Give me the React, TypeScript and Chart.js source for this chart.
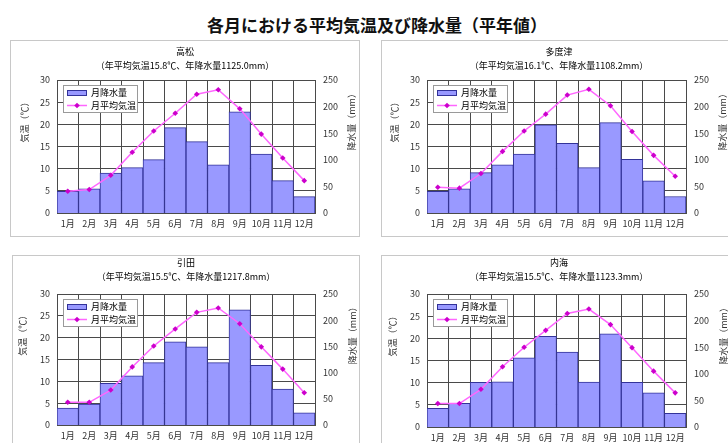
import React, { useEffect, useRef } from 'react';
import { Chart, registerables } from 'chart.js';

Chart.register(...registerables);

const FONT = "'Noto Sans CJK JP', 'Noto Sans', sans-serif";

const MONTHS = ['1月', '2月', '3月', '4月', '5月', '6月', '7月', '8月', '9月', '10月', '11月', '12月'];

// 月降水量 (mm) / 月平均気温 (℃)
const TAKAMATSU_RAIN = [40.5, 45.6, 75.2, 85.4, 100.3, 160.5, 134.1, 90.7, 190.4, 110.6, 60.8, 30.9];
const TAKAMATSU_TEMP = [4.9, 5.3, 8.5, 13.7, 18.5, 22.5, 26.8, 27.8, 23.5, 17.8, 12.4, 7.3];

const TADOTSU_RAIN = [40.6, 45.6, 76.0, 90.6, 110.6, 165.6, 131.0, 85.6, 170.0, 101.0, 60.6, 31.0];
const TADOTSU_TEMP = [5.8, 5.6, 8.9, 13.9, 18.5, 22.3, 26.6, 27.9, 24.2, 18.4, 13.0, 8.3];

const HIKETA_RAIN = [32.3, 40.0, 79.7, 93.7, 119.0, 158.9, 149.4, 119.0, 220.0, 114.0, 68.4, 23.4];
const HIKETA_TEMP = [5.2, 5.2, 8.0, 13.3, 18.1, 22.0, 25.8, 26.8, 23.2, 17.9, 12.8, 7.4];

const UCHINOMI_RAIN = [35.0, 44.4, 84.0, 85.0, 130.0, 170.6, 140.6, 84.5, 175.0, 84.2, 64.4, 25.6];
const UCHINOMI_TEMP = [5.3, 5.3, 8.5, 13.6, 18.0, 21.8, 25.6, 26.6, 23.1, 17.9, 12.6, 7.7];

const TEMP_TICKS = { min: 0, max: 30, step: 5 };
const RAIN_TICKS = { min: 0, max: 250, step: 50 };

const BAR_FILL = '#9999ff';
const BAR_EDGE = '#333399';
const LINE_COLOR = '#ff66ff';
const POINT_COLOR = '#cc00cc';
const GRID_COLOR = '#4a4a4a';

type PanelProps = {
  name: string;
  rain: number[];
  temp: number[];
  left: number;
  top: number;
  width: number;
  height: number;
  leftW: number;
  rightW: number;
  bottomH: number;
  titleTop: number;
  titleBottom: number;
  leftTitleX: number;
  rightTitleX: number;
};

// legend box drawn inside the plot area, upper left
const insideLegend = {
  id: 'insideLegend',
  afterDatasetsDraw(chart: any) {
    const { ctx, chartArea } = chart;
    const x = chartArea.left + 6;
    const y = chartArea.top + 5;
    const w = 75;
    const h = 28;
    ctx.save();
    ctx.fillStyle = '#ffffff';
    ctx.fillRect(x, y, w, h);
    ctx.strokeStyle = '#9a9a9a';
    ctx.lineWidth = 1;
    ctx.strokeRect(x + 0.5, y + 0.5, w - 1, h - 1);

    // bar swatch
    ctx.fillStyle = BAR_FILL;
    ctx.fillRect(x + 4, y + 5, 20, 6);
    ctx.strokeStyle = BAR_EDGE;
    ctx.strokeRect(x + 4.5, y + 5.5, 19, 5);

    // line swatch
    const ly = y + 20.5;
    ctx.strokeStyle = LINE_COLOR;
    ctx.lineWidth = 1.5;
    ctx.beginPath();
    ctx.moveTo(x + 4, ly);
    ctx.lineTo(x + 24, ly);
    ctx.stroke();
    ctx.fillStyle = POINT_COLOR;
    ctx.beginPath();
    ctx.moveTo(x + 14, ly - 2.8);
    ctx.lineTo(x + 16.8, ly);
    ctx.lineTo(x + 14, ly + 2.8);
    ctx.lineTo(x + 11.2, ly);
    ctx.closePath();
    ctx.fill();

    ctx.fillStyle = '#000';
    ctx.font = `9px ${FONT}`;
    ctx.textBaseline = 'middle';
    ctx.textAlign = 'left';
    ctx.fillText('月降水量', x + 28, y + 8);
    ctx.fillText('月平均気温', x + 28, ly);
    ctx.restore();
  },
};

// vertical axis titles, both reading bottom to top
const axisTitles = {
  id: 'axisTitles',
  afterDraw(chart: any, _args: any, opts: any) {
    const { ctx, chartArea } = chart;
    const cy = chartArea.top + (chartArea.bottom - chartArea.top) * 0.3;
    ctx.save();
    ctx.fillStyle = '#333';
    ctx.font = `9px ${FONT}`;
    ctx.textAlign = 'center';
    ctx.textBaseline = 'middle';
    ctx.translate(opts.leftX, cy);
    ctx.rotate(-Math.PI / 2);
    ctx.fillText('気温（℃）', 0, 0);
    ctx.restore();
    ctx.save();
    ctx.fillStyle = '#333';
    ctx.font = `9px ${FONT}`;
    ctx.textAlign = 'center';
    ctx.textBaseline = 'middle';
    ctx.translate(opts.rightX, cy);
    ctx.rotate(-Math.PI / 2);
    ctx.fillText('降水量（mm）', 0, 0);
    ctx.restore();
  },
};

function ClimatePanel(p: PanelProps) {
  const ref = useRef<HTMLCanvasElement | null>(null);
  const cw = p.width - 2;
  const ch = p.height - 2;

  useEffect(() => {
    if (!ref.current) return;
    const total = p.rain.reduce((a, b) => a + b, 0);
    const mean = p.temp.reduce((a, b) => a + b, 0) / p.temp.length;
    const sub = `（年平均気温${mean.toFixed(1)}℃、年降水量${total.toFixed(1)}mm）`;
    const tickFont = { family: FONT, size: 9 };

    const chart = new Chart(ref.current, {
      type: 'bar',
      data: {
        labels: MONTHS,
        datasets: [
          {
            type: 'line',
            label: '月平均気温',
            data: p.temp,
            yAxisID: 'y',
            borderColor: LINE_COLOR,
            borderWidth: 1.5,
            pointStyle: 'rectRot',
            pointRadius: 2.8,
            pointBackgroundColor: POINT_COLOR,
            pointBorderColor: POINT_COLOR,
            pointBorderWidth: 0,
            tension: 0,
            order: 0,
          } as any,
          {
            type: 'bar',
            label: '月降水量',
            data: p.rain,
            yAxisID: 'y1',
            backgroundColor: BAR_FILL,
            borderColor: BAR_EDGE,
            borderWidth: 1,
            barPercentage: 1,
            categoryPercentage: 1,
            order: 1,
          } as any,
        ],
      },
      options: {
        animation: false,
        responsive: false,
        events: [],
        layout: { padding: 0 },
        plugins: {
          legend: { display: false },
          tooltip: { enabled: false },
          title: {
            display: true,
            text: [p.name, sub],
            color: '#000',
            font: { family: FONT, size: 9, weight: 'normal', lineHeight: 1.5 },
            padding: { top: p.titleTop, bottom: p.titleBottom },
          },
          axisTitles: { leftX: p.leftTitleX, rightX: p.rightTitleX },
        } as any,
        scales: {
          x: {
            grid: { color: GRID_COLOR, offset: true, drawTicks: false },
            border: { color: GRID_COLOR },
            ticks: { font: tickFont, color: '#333', padding: 5, maxRotation: 0, autoSkip: false },
            afterFit: (s: any) => {
              s.height = p.bottomH;
            },
          },
          y: {
            position: 'left',
            min: TEMP_TICKS.min,
            max: TEMP_TICKS.max,
            grid: { color: GRID_COLOR, drawTicks: false },
            border: { color: GRID_COLOR },
            ticks: { stepSize: TEMP_TICKS.step, font: tickFont, color: '#333', padding: 7 },
            afterFit: (s: any) => {
              s.width = p.leftW;
            },
          },
          y1: {
            position: 'right',
            min: RAIN_TICKS.min,
            max: RAIN_TICKS.max,
            grid: { display: false, drawTicks: false },
            border: { color: GRID_COLOR },
            ticks: { stepSize: RAIN_TICKS.step, font: tickFont, color: '#333', padding: 8 },
            afterFit: (s: any) => {
              s.width = p.rightW;
            },
          },
        },
      },
      plugins: [insideLegend, axisTitles],
    });
    return () => chart.destroy();
  }, []);

  return (
    <div
      style={{
        position: 'absolute',
        left: p.left,
        top: p.top,
        width: p.width - 2,
        height: p.height - 2,
        border: '1px solid #c8c8c8',
        background: '#fff',
      }}
    >
      <canvas ref={ref} width={cw} height={ch} style={{ display: 'block', width: cw, height: ch }} />
    </div>
  );
}

export default function App() {
  return (
    <div
      style={{
        position: 'absolute',
        left: 0,
        top: 0,
        width: 728,
        height: 443,
        overflow: 'hidden',
        background: '#fff',
        fontFamily: FONT,
      }}
    >
      <div
        style={{
          position: 'absolute',
          left: 0,
          top: 13,
          width: 754,
          textAlign: 'center',
          fontSize: 17,
          fontWeight: 'bold',
          lineHeight: '24px',
          color: '#111',
          whiteSpace: 'nowrap',
        }}
      >
        各月における平均気温及び降水量（平年値）
      </div>
      <ClimatePanel
        name="高松"
        rain={TAKAMATSU_RAIN}
        temp={TAKAMATSU_TEMP}
        left={10}
        top={40}
        width={350}
        height={197}
        leftW={46}
        rightW={44}
        bottomH={23}
        titleTop={4}
        titleBottom={8}
        leftTitleX={14}
        rightTitleX={341}
      />
      <ClimatePanel
        name="多度津"
        rain={TADOTSU_RAIN}
        temp={TADOTSU_TEMP}
        left={381}
        top={40}
        width={356}
        height={197}
        leftW={45}
        rightW={50}
        bottomH={23}
        titleTop={4}
        titleBottom={8}
        leftTitleX={13}
        rightTitleX={341}
      />
      <ClimatePanel
        name="引田"
        rain={HIKETA_RAIN}
        temp={HIKETA_TEMP}
        left={12}
        top={255}
        width={348}
        height={197}
        leftW={44}
        rightW={44}
        bottomH={26}
        titleTop={0}
        titleBottom={11}
        leftTitleX={10}
        rightTitleX={340}
      />
      <ClimatePanel
        name="内海"
        rain={UCHINOMI_RAIN}
        temp={UCHINOMI_TEMP}
        left={381}
        top={255}
        width={356}
        height={197}
        leftW={45}
        rightW={50}
        bottomH={24}
        titleTop={0}
        titleBottom={11}
        leftTitleX={11}
        rightTitleX={342}
      />
    </div>
  );
}
